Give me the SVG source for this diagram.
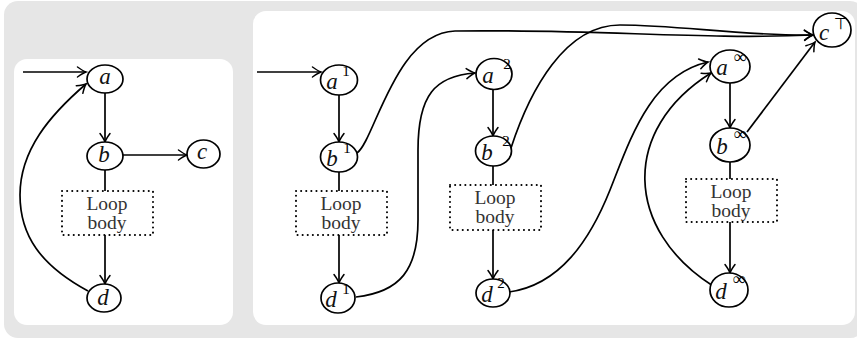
<svg xmlns="http://www.w3.org/2000/svg" width="857" height="339" viewBox="0 0 857 339">
<style>
.node ellipse{fill:#fff;stroke:#000;stroke-width:1.7}
.v{font-family:"Liberation Serif","DejaVu Serif",serif;font-style:italic;font-size:23px;fill:#111;text-anchor:middle}
.s{font-family:"Liberation Serif","DejaVu Serif",serif;font-size:15px;fill:#000;text-anchor:middle}
.box rect{fill:none;stroke:#000;stroke-width:2;stroke-dasharray:0.1 5;stroke-linecap:round}
.box text{font-family:"Liberation Serif","DejaVu Serif",serif;font-size:19.5px;fill:#333;text-anchor:middle}
.e{fill:none;stroke:#000;stroke-width:1.7}
.a{marker-end:url(#arr)}
</style>
<defs>
<marker id="arr" markerUnits="userSpaceOnUse" markerWidth="20" markerHeight="20" viewBox="-10 -10 20 20" refX="0" refY="0" orient="auto">
<path d="M-8.5,-5 Q-3,-1 0,0 Q-3,1 -8.5,5" fill="none" stroke="#000" stroke-width="1.5" stroke-linecap="round"/>
</marker>
</defs>
<rect x="4" y="1" width="860" height="337" rx="14" fill="#e6e6e6"/>
<rect x="14" y="59" width="219" height="266" rx="13" fill="#fff"/>
<rect x="253" y="11" width="602" height="314" rx="13" fill="#fff"/>

<g id="edges">
<path class="e a" d="M23,72 L86,72"/>
<path class="e a" d="M105,93 L105,142"/>
<path class="e a" d="M123,155 L187,155"/>
<path class="e" d="M105,170 L105,191"/>
<path class="e a" d="M105,235 L105,284"/>
<path class="e a" d="M88,291 C40,265 20,235 20,195 C20,150 50,115 86,84"/>

<path class="e a" d="M257,72 L321,72"/>
<path class="e a" d="M339,95 L339,142"/>
<path class="e" d="M339,172 L339,191"/>
<path class="e a" d="M339,235 L339,283"/>
<path class="e a" d="M357,153 C375,140 395,33 455,31 C600,29 700,40 813,35"/>
<path class="e a" d="M356,297 C400,292 418,270 418,220 L418,150 C418,95 435,76 475,73"/>

<path class="e a" d="M493,90 L493,136"/>
<path class="e" d="M493,166 L493,185"/>
<path class="e a" d="M493,230 L493,279"/>
<path class="e a" d="M511,148 C530,90 565,25 620,25 C680,25 740,36 813,35"/>
<path class="e a" d="M509,292 C560,285 590,240 610,190 C630,140 650,75 708,62"/>

<path class="e a" d="M730,83 L730,128"/>
<path class="e" d="M730,162 L730,179"/>
<path class="e a" d="M730,222 L730,273"/>
<path class="e a" d="M713,286 C625,230 620,130 711,73"/>
<path class="e a" d="M747,132 L815,42"/>
</g>

<g id="n-a" class="node"><ellipse cx="105" cy="79" rx="18" ry="14"/><text class="v" x="105" y="84">a</text></g>
<g id="n-b" class="node"><ellipse cx="105" cy="156" rx="18" ry="14"/><text class="v" x="104" y="162">b</text></g>
<g id="n-c" class="node"><ellipse cx="203.5" cy="154" rx="16.5" ry="14"/><text class="v" x="202" y="159">c</text></g>
<g id="n-d" class="node"><ellipse cx="104" cy="298" rx="17" ry="14"/><text class="v" x="103" y="305">d</text></g>
<g id="box0" class="box"><rect x="62" y="191" width="91" height="44"/><text x="107" y="210">Loop</text><text x="107" y="229">body</text></g>

<g id="n-a1" class="node"><ellipse cx="339" cy="80" rx="18.5" ry="15"/><text class="v" x="332" y="89">a</text><text class="s" x="346" y="76">1</text></g>
<g id="n-b1" class="node"><ellipse cx="339" cy="157" rx="18.5" ry="15"/><text class="v" x="332" y="166">b</text><text class="s" x="347" y="153">1</text></g>
<g id="box1" class="box"><rect x="296" y="191" width="91" height="44"/><text x="341" y="210">Loop</text><text x="341" y="229">body</text></g>
<g id="n-d1" class="node"><ellipse cx="338" cy="298" rx="17" ry="15"/><text class="v" x="331" y="307">d</text><text class="s" x="346" y="294">1</text></g>

<g id="n-a2" class="node"><ellipse cx="494" cy="74" rx="18" ry="15.5"/><text class="v" x="488" y="83">a</text><text class="s" x="507" y="69">2</text></g>
<g id="n-b2" class="node"><ellipse cx="493.5" cy="151" rx="18" ry="15"/><text class="v" x="487" y="160">b</text><text class="s" x="506" y="146">2</text></g>
<g id="box2" class="box"><rect x="450" y="185" width="91" height="45"/><text x="495" y="204">Loop</text><text x="495" y="223">body</text></g>
<g id="n-d2" class="node"><ellipse cx="493" cy="293" rx="17" ry="14"/><text class="v" x="487" y="302">d</text><text class="s" x="501" y="288">2</text></g>

<g id="n-ainf" class="node"><ellipse cx="730" cy="66.5" rx="20" ry="16.5"/><text class="v" x="722" y="75">a</text><text class="s" x="740" y="63" style="font-size:18px">∞</text></g>
<g id="n-binf" class="node"><ellipse cx="730" cy="145" rx="20" ry="17"/><text class="v" x="722" y="154">b</text><text class="s" x="740" y="140" style="font-size:18px">∞</text></g>
<g id="boxinf" class="box"><rect x="686" y="179" width="91" height="43"/><text x="731" y="198">Loop</text><text x="731" y="217">body</text></g>
<g id="n-dinf" class="node"><ellipse cx="729" cy="290" rx="19" ry="17"/><text class="v" x="721" y="299">d</text><text class="s" x="739" y="285" style="font-size:18px">∞</text></g>
<g id="n-ctop" class="node"><ellipse cx="832" cy="30" rx="19" ry="17"/><text class="v" x="824" y="40">c</text><text class="s" x="841" y="29" style="font-family:'DejaVu Sans',sans-serif;font-size:16px">⊤</text></g>
</svg>
